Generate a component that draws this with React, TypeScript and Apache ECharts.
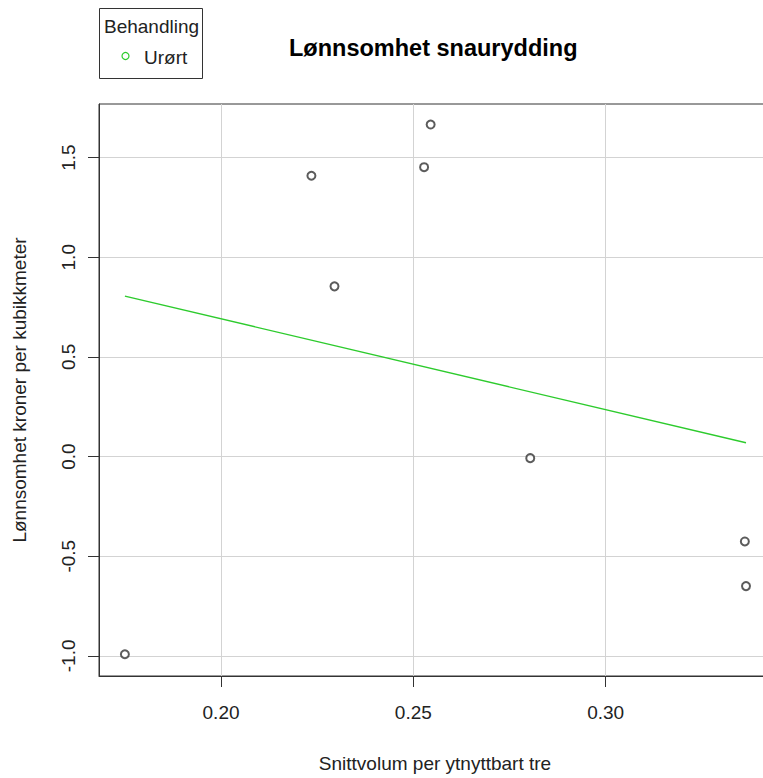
import React, { useEffect, useRef } from "react";
import * as echarts from "echarts";

const xValues = [0.175, 0.2235, 0.2295, 0.2528, 0.2545, 0.2804, 0.3362, 0.3365];
const yValues = [-0.992, 1.409, 0.854, 1.452, 1.666, -0.008, -0.426, -0.65];
const xTicks = [0.2, 0.25, 0.3];
const yTicks = [-1, -0.5, 0, 0.5, 1, 1.5];
const xRange = [0.16827, 0.343];
const yRange = [-1.101, 1.769];
const titleText = "Lønnsomhet snaurydding";
const xName = "Snittvolum per ytnyttbart tre";
const yName = "Lønnsomhet kroner per kubikkmeter";
const legendTitle = "Behandling";
const legendItem = "Urørt";

const FONT = "'Liberation Sans', Arial, sans-serif";
const GREEN = "#2DCB2D";
const AXIS = "#333";

function fitLine(xs: number[], ys: number[]) {
  const n = xs.length;
  const mx = xs.reduce((a, b) => a + b, 0) / n;
  const my = ys.reduce((a, b) => a + b, 0) / n;
  let sxy = 0, sxx = 0;
  for (let i = 0; i < n; i++) {
    sxy += (xs[i] - mx) * (ys[i] - my);
    sxx += (xs[i] - mx) * (xs[i] - mx);
  }
  const b = sxy / sxx;
  const a = my - b * mx;
  const x0 = Math.min(...xs);
  const x1 = Math.max(...xs);
  return [[x0, a + b * x0], [x1, a + b * x1]];
}

export default function App() {
  const ref = useRef<HTMLDivElement>(null);
  useEffect(() => {
    if (!ref.current) return;
    const chart = echarts.init(ref.current, null, { renderer: "svg" });
    const points = xValues.map((x, i) => [x, yValues[i]]);
    const line = fitLine(xValues, yValues);
    chart.setOption({
      animation: false,
      backgroundColor: "#fff",
      grid: {
        left: 99,
        right: 19,
        top: 104,
        bottom: 93,
        show: true,
        borderColor: AXIS,
        borderWidth: 1,
      },
      xAxis: {
        type: "value",
        min: xRange[0],
        max: xRange[1],
        name: xName,
        nameLocation: "middle",
        nameGap: 78,
        nameTextStyle: { fontFamily: FONT, fontSize: 19, color: "#222" },
        axisLine: { show: true, onZero: false, lineStyle: { color: AXIS, width: 1 } },
        axisTick: { show: true, length: 11, lineStyle: { color: AXIS }, customValues: xTicks },
        axisLabel: {
          customValues: xTicks,
          formatter: (v: number) => v.toFixed(2),
          fontFamily: FONT,
          fontSize: 19,
          color: "#222",
          margin: 27,
        },
        splitLine: { show: true, lineStyle: { color: "#d3d3d3", width: 1 } },
      },
      yAxis: {
        type: "value",
        min: yRange[0],
        max: yRange[1],
        name: yName,
        nameLocation: "middle",
        nameGap: 70,
        nameTextStyle: { fontFamily: FONT, fontSize: 19, color: "#222" },
        axisLine: { show: true, onZero: false, lineStyle: { color: AXIS, width: 1 } },
        axisTick: { show: true, length: 11, lineStyle: { color: AXIS }, customValues: yTicks },
        axisLabel: {
          customValues: yTicks,
          rotate: 90,
          formatter: (v: number) => v.toFixed(1),
          fontFamily: FONT,
          fontSize: 19,
          color: "#222",
          margin: 21,
        },
        splitLine: { show: true, lineStyle: { color: "#d3d3d3", width: 1 } },
      },
      graphic: [
        {
          type: "text",
          left: 435 - 146,
          top: 36,
          style: {
            text: titleText,
            font: `bold 23.5px ${FONT}`,
            fill: "#000",
          },
        },
        {
          type: "rect",
          shape: { x: 99.5, y: 8.5, width: 103, height: 70 },
          style: { fill: "#fff", stroke: AXIS, lineWidth: 1 },
        },
        {
          type: "text",
          x: 104,
          y: 26,
          style: {
            text: legendTitle,
            font: `19px ${FONT}`,
            fill: "#222",
            textVerticalAlign: "middle",
          },
        },
        {
          type: "circle",
          shape: { cx: 125.5, cy: 56, r: 3.5 },
          style: { fill: "none", stroke: GREEN, lineWidth: 1.2 },
        },
        {
          type: "text",
          x: 144,
          y: 57,
          style: {
            text: legendItem,
            font: `19px ${FONT}`,
            fill: "#222",
            textVerticalAlign: "middle",
          },
        },
      ],
      series: [
        {
          type: "line",
          data: line,
          symbol: "none",
          lineStyle: { color: GREEN, width: 1.3 },
          silent: true,
        },
        {
          type: "scatter",
          data: points,
          symbol: "emptyCircle",
          symbolSize: 8,
          itemStyle: { color: "#333", borderColor: "#333", borderWidth: 1.1 },
        },
      ],
    });
    return () => chart.dispose();
  }, []);
  return (
    <div
      style={{
        position: "fixed",
        left: 0,
        top: 0,
        width: 763,
        height: 778,
        overflow: "hidden",
        background: "#fff",
      }}
    >
      <div ref={ref} style={{ width: 790, height: 778 }} />
    </div>
  );
}
